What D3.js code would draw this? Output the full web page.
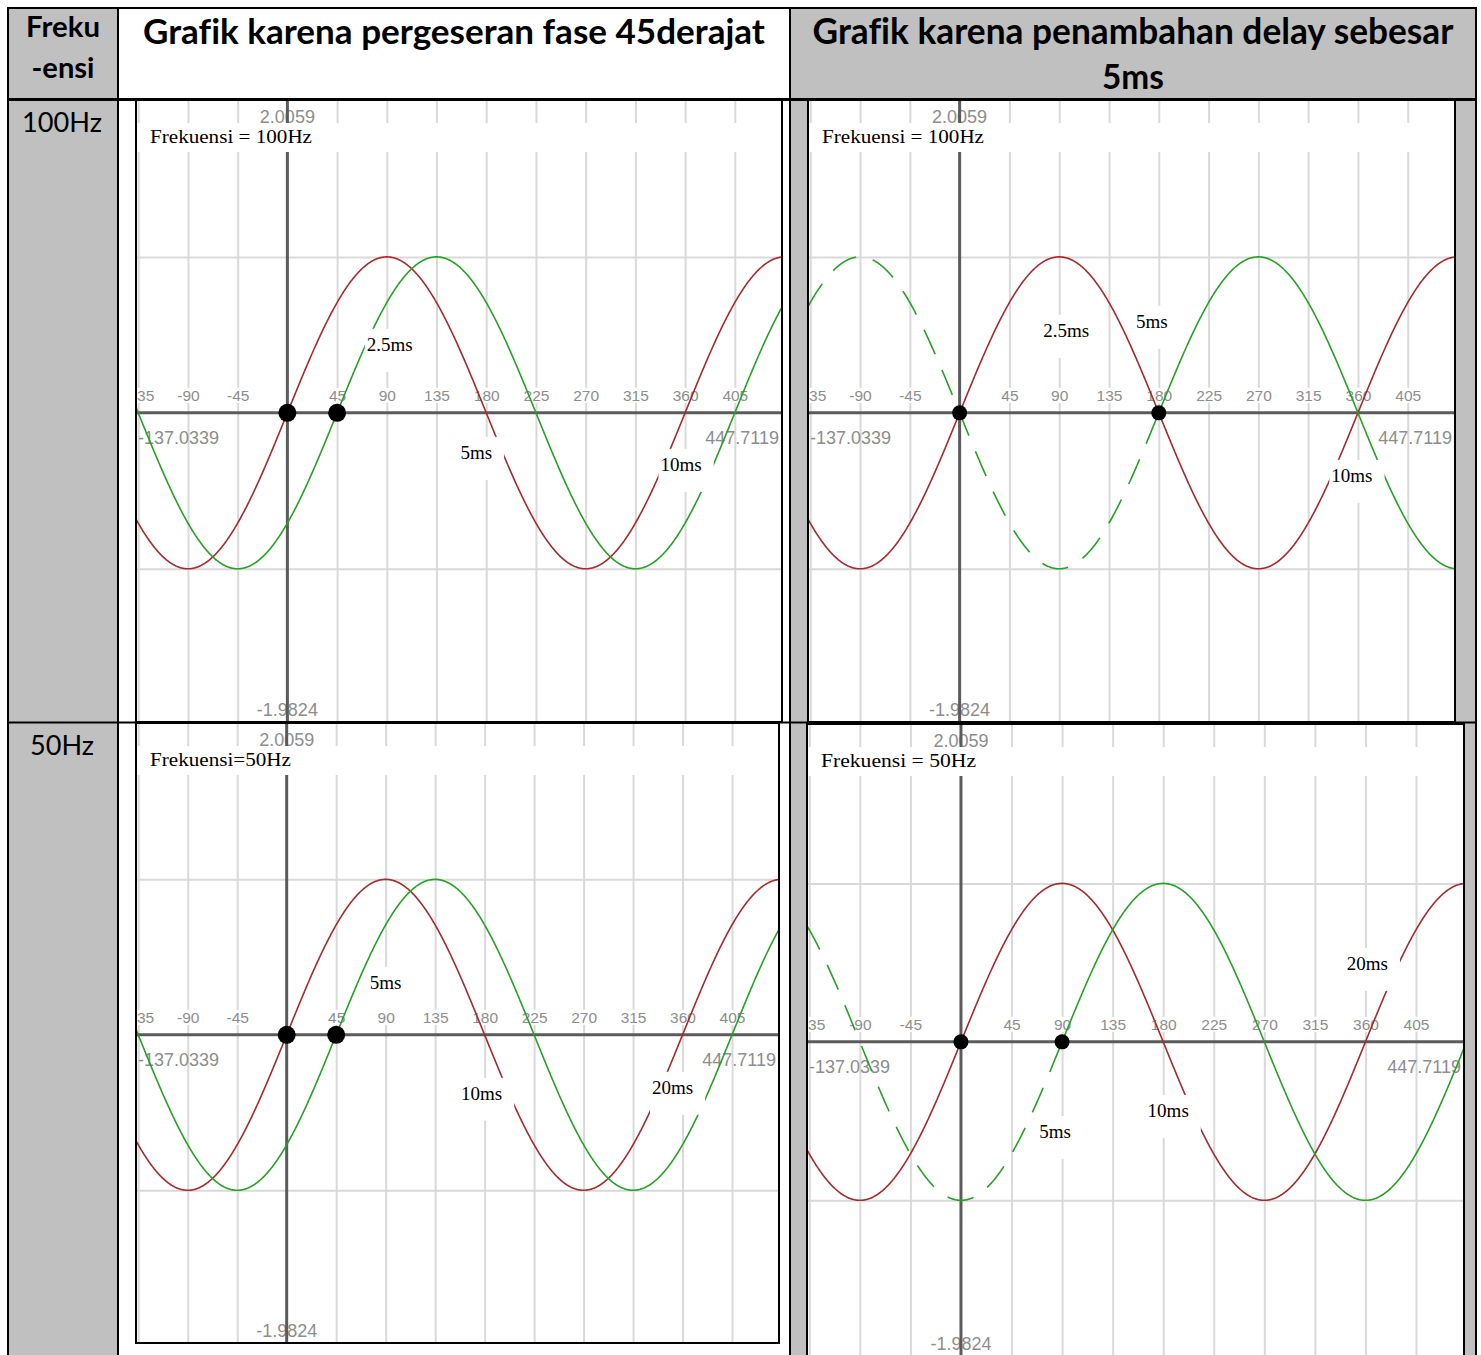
<!DOCTYPE html>
<html>
<head>
<meta charset="utf-8">
<script src="https://cdn.jsdelivr.net/npm/d3@7"></script>
<style>
  html, body { margin: 0; padding: 0; background: #fff; }
  svg { display: block; }
  text { font-variant-ligatures: none; font-feature-settings: "liga" 0; }
</style>
</head>
<body>
<svg id="chart" width="1481" height="1355"></svg>
<script>
// ---- Table text ----
const headCol1 = ["Freku", "-ensi"];
const headCol2 = ["Grafik karena pergeseran fase 45derajat"];
const headCol3 = ["Grafik karena penambahan delay sebesar", "5ms"];
const rowLabels = ["100Hz", "50Hz"];

// ---- Signals ----
const frequenciesHz = [100, 50];
const amplitude = 1;
const phaseShiftDeg = 45;
const delayMs = 5;

// ---- Plot window (degrees, amplitude) and ticks ----
const xDomain = [-137.0339, 447.7119];
const yDomain = [-1.9824, 2.0059];
const xTickValues = [-135, -90, -45, 45, 90, 135, 180, 225, 270, 315, 360, 405];
const yGridValues = [-1, 1];

// ---- Panel captions and time markers (ms) ----
const panelModes = ["phase", "delay", "phase", "delay"];
const panelRows = [0, 0, 1, 1];
const panelCaptions = ["Frekuensi = 100Hz", "Frekuensi = 100Hz", "Frekuensi=50Hz", "Frekuensi = 50Hz"];
const markersMs = [[2.5, 5, 10], [2.5, 5, 10], [5, 10, 20], [5, 10, 20]];

// ---- Layout ----
const W = 1481, H = 1355;
const cellGray = "#c0c0c0";
const redColor = "#a62a2a";
const greenColor = "#26a126";
const panelBoxes = [
  { x0: 136, x1: 782, y0: 100, y1: 722, dotR: 9, captionW: 162 },
  { x0: 808, x1: 1455, y0: 100, y1: 722, dotR: 7.5, captionW: 162 },
  { x0: 136, x1: 779, y0: 723, y1: 1343, dotR: 9, captionW: 141 },
  { x0: 807, x1: 1464, y0: 724, y1: 1356, dotR: 7.5, captionW: 155 }
];
// marker text offsets: [dx from marker angle, baseline dy from zero line]
const markerOffsets = [
  [[3, -62], [-10, 46], [-4, 58]],
  [[7, -76], [-7, -85], [-6, 69]],
  [[0, -46], [-3, 65], [-10, 59]],
  [[-7, 96], [5, 75], [2, -72]]
];

const svg = d3.select("#chart");
svg.append("rect").attr("width", W).attr("height", H).attr("fill", "#fff");

// shaded columns
svg.append("rect").attr("x", 8).attr("y", 8).attr("width", 110).attr("height", H - 8).attr("fill", cellGray);
svg.append("rect").attr("x", 790).attr("y", 8).attr("width", 686).attr("height", H - 8).attr("fill", cellGray);

function fitText(sel, target) {
  const w = sel.node().getComputedTextLength();
  const fs = parseFloat(sel.attr("font-size"));
  if (w > 0) sel.attr("font-size", (fs * target / w).toFixed(2));
  return sel;
}

function headerText(str, cx, baseline, target, bold) {
  const t = svg.append("text")
    .attr("x", cx).attr("y", baseline)
    .attr("text-anchor", "middle")
    .attr("font-family", "Lato, 'Open Sans', sans-serif")
    .attr("font-weight", bold ? 700 : 400)
    .attr("font-size", 30)
    .attr("fill", "#000")
    .text(str);
  fitText(t, target);
}

headerText(headCol1[0], 63, 37, 74, true);
headerText(headCol1[1], 63, 78, 63, true);
headerText(headCol2[0], 454, 44, 622, true);
headerText(headCol3[0], 1133, 44, 641, true);
headerText(headCol3[1], 1133, 89, 62, true);
headerText(rowLabels[0], 62, 132, 80, false);
headerText(rowLabels[1], 62, 755, 64, false);

// ---- Panels ----
function drawPanel(i) {
  const p = panelBoxes[i];
  const f = frequenciesHz[panelRows[i]];
  const mode = panelModes[i];
  const x = d3.scaleLinear().domain(xDomain).range([p.x0, p.x1]);
  const y = d3.scaleLinear().domain(yDomain).range([p.y1, p.y0]);
  const pw = p.x1 - p.x0, ph = p.y1 - p.y0;

  const clipId = "clip" + i;
  svg.append("clipPath").attr("id", clipId)
    .append("rect").attr("x", p.x0).attr("y", p.y0).attr("width", pw).attr("height", ph);

  const g = svg.append("g").attr("clip-path", `url(#${clipId})`);
  g.append("rect").attr("x", p.x0).attr("y", p.y0).attr("width", pw).attr("height", ph).attr("fill", "#fff");

  // vertical grid
  const vg = g.append("g").attr("transform", `translate(0,${p.y1})`)
    .call(d3.axisBottom(x).tickValues(xTickValues).tickSize(-ph).tickFormat(""));
  vg.select(".domain").remove();
  vg.selectAll("line").attr("stroke", "#d9d9d9").attr("stroke-width", 2);

  // horizontal grid
  const hg = g.append("g").attr("transform", `translate(${p.x0},0)`)
    .call(d3.axisLeft(y).tickValues(yGridValues).tickSize(-pw).tickFormat(""));
  hg.select(".domain").remove();
  hg.selectAll("line").attr("stroke", "#d9d9d9").attr("stroke-width", 2);

  const labelFont = "'Liberation Sans', Arial, sans-serif";
  const labelGray = "#8d8d8d";

  // y extent labels
  g.append("text").attr("x", x(0)).attr("y", p.y0 + 23).attr("text-anchor", "middle")
    .attr("font-family", labelFont).attr("font-size", 18).attr("fill", labelGray)
    .text(yDomain[1].toFixed(4));
  g.append("text").attr("x", x(0)).attr("y", p.y1 - 6).attr("text-anchor", "middle")
    .attr("font-family", labelFont).attr("font-size", 18).attr("fill", labelGray)
    .text(yDomain[0].toFixed(4));

  // main axes
  g.append("line").attr("x1", p.x0).attr("x2", p.x1).attr("y1", y(0)).attr("y2", y(0))
    .attr("stroke", "#5b5b5b").attr("stroke-width", 3);
  g.append("line").attr("x1", x(0)).attr("x2", x(0)).attr("y1", p.y0).attr("y2", p.y1)
    .attr("stroke", "#5b5b5b").attr("stroke-width", 3);

  // caption band
  g.append("rect").attr("x", p.x0).attr("y", p.y0 + 23).attr("width", pw).attr("height", 29).attr("fill", "#fff");

  // x tick labels above the zero line
  const xt = g.append("g").attr("transform", `translate(0,${y(0)})`)
    .call(d3.axisTop(x).tickValues(xTickValues).tickSize(0).tickPadding(12).tickFormat(d => String(d)));
  xt.select(".domain").remove();
  xt.selectAll("text").attr("font-family", labelFont).attr("font-size", 15.5).attr("fill", labelGray);
  xt.selectAll(".tick").each(function () {
    const tick = d3.select(this);
    const bb = tick.select("text").node().getBBox();
    tick.insert("rect", "text")
      .attr("x", bb.x - 2).attr("y", bb.y + 1).attr("width", bb.width + 4).attr("height", bb.height - 2)
      .attr("fill", "#fff");
  });

  // x extent labels
  g.append("text").attr("x", p.x0 + 2).attr("y", y(0) + 31).attr("text-anchor", "start")
    .attr("font-family", labelFont).attr("font-size", 18).attr("fill", labelGray)
    .text(xDomain[0].toFixed(4));
  g.append("text").attr("x", p.x1 - 3).attr("y", y(0) + 31).attr("text-anchor", "end")
    .attr("font-family", labelFont).attr("font-size", 18).attr("fill", labelGray)
    .text(xDomain[1].toFixed(4));

  // curves
  const degs = d3.range(xDomain[0], xDomain[1] + 0.5, 0.5);
  const line = d3.line().x(d => x(d[0])).y(d => y(d[1]));
  const wave = (shift) => (d) => [d, amplitude * Math.sin((d - shift) * Math.PI / 180)];

  g.append("path").datum(degs.map(wave(0))).attr("d", line)
    .attr("fill", "none").attr("stroke", redColor).attr("stroke-width", 1.6);

  const shift = mode === "phase" ? phaseShiftDeg : delayMs * f * 360 / 1000;
  if (mode === "phase") {
    g.append("path").datum(degs.map(wave(shift))).attr("d", line)
      .attr("fill", "none").attr("stroke", greenColor).attr("stroke-width", 1.6);
  } else {
    // before the delay has elapsed the signal is shown dashed
    g.append("path").datum(degs.filter(d => d <= shift).map(wave(shift))).attr("d", line)
      .attr("fill", "none").attr("stroke", greenColor).attr("stroke-width", 1.6)
      .attr("stroke-dasharray", "27,17");
    g.append("path").datum(degs.filter(d => d >= shift).map(wave(shift))).attr("d", line)
      .attr("fill", "none").attr("stroke", greenColor).attr("stroke-width", 1.6);
  }

  // time markers
  markersMs[i].forEach((ms, k) => {
    const deg = ms * f * 360 / 1000;
    const [dx, dy] = markerOffsets[i][k];
    const mg = g.append("g");
    const t = mg.append("text").attr("x", x(deg) + dx).attr("y", y(0) + dy)
      .attr("text-anchor", "middle")
      .attr("font-family", "'Liberation Serif', 'Times New Roman', serif")
      .attr("font-size", 19).attr("fill", "#000")
      .text(ms + "ms");
    const bb = t.node().getBBox();
    mg.insert("rect", "text")
      .attr("x", bb.x - 2).attr("y", bb.y - 5)
      .attr("width", bb.width + 14).attr("height", bb.height + 22)
      .attr("fill", "#fff");
  });

  // zero-crossing dots
  g.selectAll("circle.dot").data([0, shift]).enter().append("circle")
    .attr("class", "dot")
    .attr("cx", d => x(d)).attr("cy", y(0)).attr("r", p.dotR).attr("fill", "#000");

  // caption
  g.append("text").attr("x", p.x0 + 14).attr("y", p.y0 + 43)
    .attr("font-family", "'Liberation Serif', 'Times New Roman', serif")
    .attr("font-size", 19).attr("fill", "#000")
    .attr("textLength", p.captionW).attr("lengthAdjust", "spacingAndGlyphs")
    .text(panelCaptions[i]);

  // frame
  svg.append("rect").attr("x", p.x0).attr("y", p.y0).attr("width", pw).attr("height", ph)
    .attr("fill", "none").attr("stroke", "#000").attr("stroke-width", 2);
}

panelBoxes.forEach((_, i) => drawPanel(i));

// ---- Table rules ----
const rule = (x1, y1, x2, y2, w) => svg.append("line")
  .attr("x1", x1).attr("y1", y1).attr("x2", x2).attr("y2", y2)
  .attr("stroke", "#000").attr("stroke-width", w);
rule(7, 8, 1477, 8, 2);
rule(8, 7, 8, H, 2);
rule(118, 7, 118, H, 2);
rule(790, 7, 790, H, 2);
rule(1476, 7, 1476, H, 2);
rule(7, 99.5, 1477, 99.5, 3);
rule(7, 722.5, 1477, 722.5, 2);
</script>
</body>
</html>
